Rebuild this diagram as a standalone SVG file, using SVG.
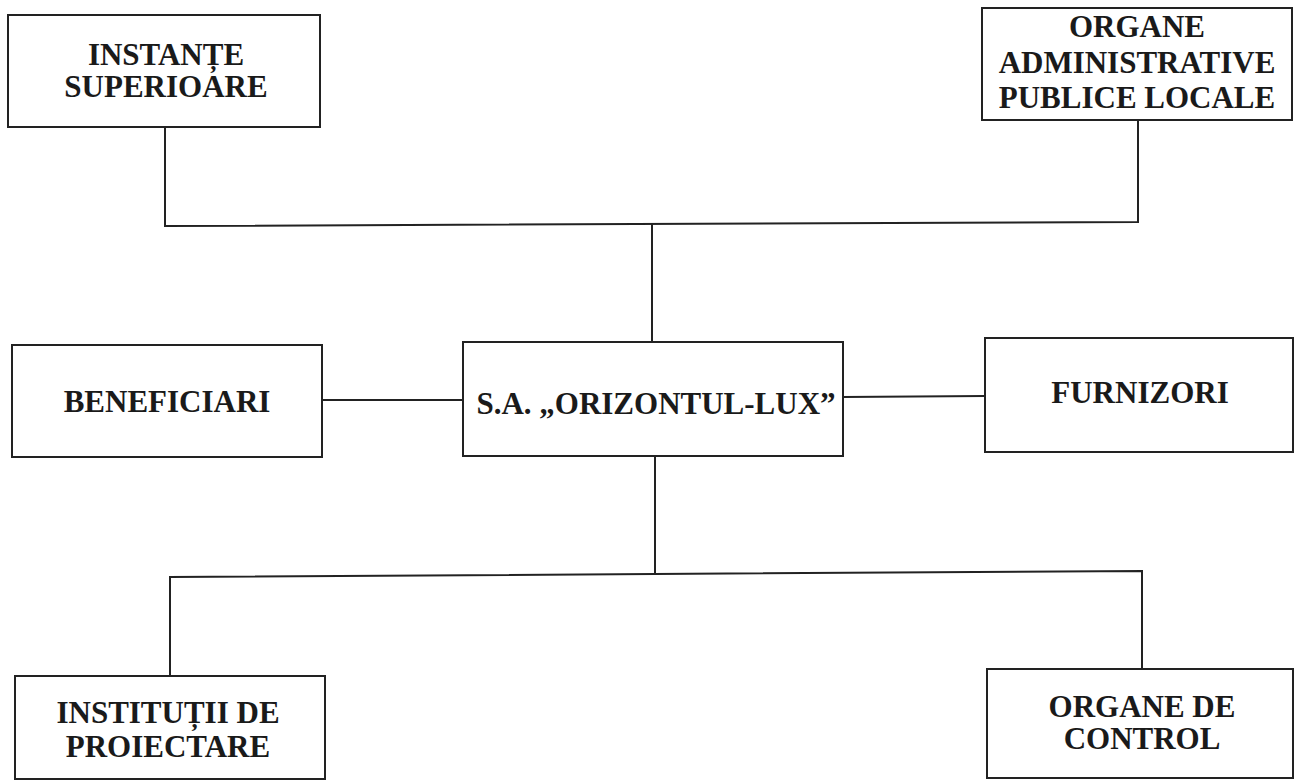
<svg xmlns="http://www.w3.org/2000/svg" width="1296" height="781" viewBox="0 0 1296 781">
<style>
.box{fill:#fff;stroke:#222;stroke-width:2}
.t{font-family:"Liberation Serif","Times New Roman",serif;font-weight:bold;font-size:31px;fill:#1a1a1a;text-anchor:middle}
.c{stroke:#222;stroke-width:2;fill:none}
</style>
<rect width="1296" height="781" fill="#fff"/>
<g id="connectors">
<polyline class="c" points="165,127 165,226 1138,222 1138,120"/>
<line class="c" x1="652" y1="224" x2="652" y2="342"/>
<line class="c" x1="322" y1="400" x2="463" y2="400"/>
<line class="c" x1="843" y1="397" x2="985" y2="396"/>
<line class="c" x1="655" y1="456" x2="655" y2="574"/>
<polyline class="c" points="170,676 170,577 1142,571 1142,669"/>
</g>
<g id="instante">
<rect class="box" x="8" y="15" width="312" height="112"/>
<text class="t" x="166" y="65">INSTANȚE</text>
<text class="t" x="166" y="97">SUPERIOARE</text>
</g>
<g id="organe-admin">
<rect class="box" x="982" y="8" width="310" height="112"/>
<text class="t" x="1137" y="37">ORGANE</text>
<text class="t" x="1137" y="73">ADMINISTRATIVE</text>
<text class="t" x="1137" y="108">PUBLICE LOCALE</text>
</g>
<g id="beneficiari">
<rect class="box" x="12" y="345" width="310" height="112"/>
<text class="t" x="167" y="412">BENEFICIARI</text>
</g>
<g id="orizontul">
<rect class="box" x="463" y="342" width="380" height="114"/>
<text class="t" x="656" y="414">S.A. „ORIZONTUL-LUX”</text>
</g>
<g id="furnizori">
<rect class="box" x="985" y="338" width="308" height="114"/>
<text class="t" x="1140" y="403">FURNIZORI</text>
</g>
<g id="institutii">
<rect class="box" x="15" y="676" width="310" height="103"/>
<text class="t" x="168" y="723">INSTITUȚII DE</text>
<text class="t" x="168" y="757">PROIECTARE</text>
</g>
<g id="organe-control">
<rect class="box" x="987" y="669" width="306" height="109"/>
<text class="t" x="1142" y="717">ORGANE DE</text>
<text class="t" x="1142" y="749">CONTROL</text>
</g>
</svg>
